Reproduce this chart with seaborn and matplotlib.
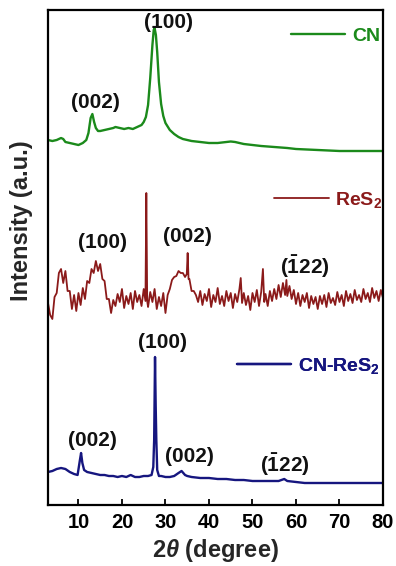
import matplotlib
matplotlib.use("Agg")
import matplotlib.pyplot as plt
import seaborn as sns
import pandas as pd

# ---------------- data ----------------
cn_x = [3.0, 4.0, 5.0, 6.0, 6.5, 7.0, 8.0, 9.0, 10.0, 11.0, 11.8, 12.3, 12.8, 13.2,
        13.6, 14.0, 14.5, 15.0, 16.0, 17.0, 18.0, 18.5, 19.5, 20.5, 21.5, 22.5, 23.5,
        24.5, 25.0, 25.5, 26.0, 26.5, 27.0, 27.3, 27.5, 27.8, 28.1, 28.5, 29.0, 29.5,
        30.0, 31.0, 32.0, 33.0, 34.0, 36.0, 38.0, 40.0, 42.0, 44.0, 45.0, 46.0, 48.0,
        50.0, 52.0, 55.0, 58.0, 60.0, 65.0, 70.0, 75.0, 80.0]
cn_y = [365, 364, 365, 367, 366, 363, 362, 361, 360, 362, 365, 372, 387, 391,
        383, 377, 374, 374, 375, 376, 377, 378, 377, 376, 377, 376, 378,
        380, 383, 388, 400, 427, 460, 475, 477, 470, 453, 423, 401, 389,
        382, 375, 371, 368, 366, 364, 363, 362, 362, 363, 363.5, 363, 361,
        360, 359, 358, 357, 356, 355, 354, 354, 354]

res2_x = [3.0, 3.5, 4.0, 4.5, 5.0, 5.5, 6.0, 6.5, 7.0, 7.5, 8.0, 8.5, 9.0, 9.5, 10.0,
          10.5, 11.0, 11.5, 12.0, 12.5, 13.0, 13.5, 14.0, 14.5, 15.0, 15.5, 16.0, 16.5,
          17.0, 17.5, 18.0, 18.5, 19.0, 19.5, 20.0, 20.5, 21.0, 21.5, 22.0, 22.5, 23.0,
          23.5, 24.0, 24.5, 25.0, 25.4, 25.6, 25.8, 26.0, 26.5, 27.0, 27.5, 28.0, 28.5,
          29.0, 29.5, 30.0, 30.5, 31.0, 31.5, 32.0, 32.5, 33.0, 33.5, 34.0, 34.5, 34.9,
          35.1, 35.3, 35.5, 36.0, 36.5, 37.0, 37.5, 38.0, 38.5, 39.0, 39.5, 40.0, 40.5,
          41.0, 41.5, 42.0, 42.5, 43.0, 43.5, 44.0, 44.5, 45.0, 45.5, 46.0, 46.5, 47.0,
          47.3, 47.6, 48.0, 48.5, 49.0, 49.5, 50.0, 50.5, 51.0, 51.5, 52.0, 52.4, 52.7,
          53.0, 53.5, 54.0, 54.5, 55.0, 55.5, 56.0, 56.5, 57.0, 57.5, 57.8, 58.0, 58.5,
          59.0, 59.5, 60.0, 60.5, 61.0, 61.5, 62.0, 62.5, 63.0, 63.5, 64.0, 64.5, 65.0,
          65.5, 66.0, 66.5, 67.0, 67.5, 68.0, 68.5, 69.0, 69.5, 70.0, 70.5, 71.0, 71.5,
          72.0, 72.5, 73.0, 73.5, 74.0, 74.5, 75.0, 75.5, 76.0, 76.5, 77.0, 77.5, 78.0,
          78.5, 79.0, 79.5, 80.0]
res2_y = [202, 190, 186, 208, 212, 232, 236, 222, 234, 214, 214, 196, 210, 194, 212,
          200, 217, 206, 224, 222, 236, 232, 244, 234, 241, 226, 224, 206,
          206, 192, 205, 199, 211, 203, 216, 197, 209, 201, 212, 196, 214,
          203, 210, 199, 216, 204, 312, 204, 198, 213, 203, 216, 196, 208,
          199, 212, 192, 210, 216, 225, 228, 229, 234, 232, 232, 228, 231,
          252, 226, 226, 214, 214, 210, 203, 214, 200, 211, 204, 216, 198,
          210, 203, 217, 201, 209, 199, 214, 204, 212, 197, 211, 203, 216,
          227, 202, 212, 200, 209, 195, 212, 203, 215, 199, 213, 236, 203,
          211, 199, 214, 204, 216, 206, 220, 208, 222, 210, 225, 209, 219,
          206, 215, 201, 212, 199, 210, 203, 212, 197, 209, 201, 208, 196,
          209, 201, 210, 198, 212, 202, 207, 200, 213, 203, 210, 199, 214,
          204, 211, 202, 215, 205, 210, 203, 216, 206, 212, 203, 217, 207,
          214, 204, 215, 207]

cnres_x = [3.0, 4.0, 5.0, 6.0, 7.0, 8.0, 9.0, 9.8, 10.3, 10.6, 10.9, 11.3, 12.0, 13.0,
           14.0, 15.0, 16.0, 17.0, 18.0, 19.0, 20.0, 21.0, 22.0, 23.0, 24.0, 25.0,
           26.0, 26.8, 27.2, 27.4, 27.6, 27.75, 27.9, 28.1, 28.5, 29.0, 30.0, 31.0,
           32.0, 33.0, 33.7, 34.5, 35.0, 36.0, 38.0, 40.0, 42.0, 44.0, 46.0, 48.0,
           50.0, 52.0, 54.0, 56.0, 57.3, 58.0, 60.0, 62.0, 65.0, 70.0, 75.0, 80.0]
cnres_y = [33, 34, 36, 37, 36, 33, 31, 30, 44, 52, 42, 35, 33, 32,
           31, 30, 30, 29, 29, 28, 29, 28, 30, 28, 28, 29,
           29, 30, 38, 65, 148, 100, 65, 35, 29, 29, 28, 28,
           29, 32, 34, 30, 29, 28, 27, 27, 26, 26, 25, 25,
           24, 24, 24, 24, 26, 24, 23, 22, 22, 22, 22, 22]

series_names = ["CN", "ReS$_\\mathbf{2}$", "CN-ReS$_\\mathbf{2}$"]
series_colors = ["#1b8a1b", "#8b1a1a", "#16167f"]
x_ticks = [10, 20, 30, 40, 50, 60, 70, 80]

# peak labels
peak_text = ["(100)", "(002)", "(100)", "(002)", "$\\mathbf{(\\bar{1}22)}$",
             "(100)", "(002)", "(002)", "$\\mathbf{(\\bar{1}22)}$"]
peak_x = [30.6, 13.8, 15.6, 35.0, 62.1, 29.4, 13.1, 35.6, 57.5]
peak_y = [483, 402, 262, 268, 238, 162, 65, 48, 40]

# ---------------- style ----------------
sns.set_theme(style="ticks")
plt.rcParams["font.family"] = ["Liberation Sans", "DejaVu Sans"]
plt.rcParams["font.weight"] = "bold"
plt.rcParams["mathtext.fontset"] = "custom"
plt.rcParams["mathtext.rm"] = "Liberation Sans:bold"
plt.rcParams["mathtext.bf"] = "Liberation Sans:bold"
plt.rcParams["mathtext.it"] = "Liberation Sans:italic:bold"

fig = plt.figure(figsize=(3.96, 5.66), dpi=100)
ax = fig.add_axes([48 / 396, 1 - 505 / 566, 335 / 396, 495 / 566])

frames = [
    pd.DataFrame({"x": cn_x, "y": cn_y}),
    pd.DataFrame({"x": res2_x, "y": res2_y}),
    pd.DataFrame({"x": cnres_x, "y": cnres_y}),
]
lws = [1.7, 1.3, 1.7]
handles = []
for df, name, col, lw in zip(frames, series_names, series_colors, lws):
    sns.lineplot(data=df, x="x", y="y", ax=ax, color=col, lw=lw, sort=False,
                 estimator=None)
    handles.append(ax.lines[-1])

ax.set_xlim(3, 80)
ax.set_ylim(0, 495)
ax.set_xticks(x_ticks)
ax.set_yticks([])
ax.tick_params(axis="x", direction="in", length=4, width=1.3, labelsize=14.5,
               pad=6, colors="black")
for lbl in ax.get_xticklabels():
    lbl.set_fontweight("bold")
for sp in ax.spines.values():
    sp.set_linewidth(1.6)
    sp.set_color("black")

ax.set_xlabel("2$\\theta$ (degree)", fontsize=17, fontweight="bold", labelpad=3)
ax.set_ylabel("Intensity (a.u.)", fontsize=17, fontweight="bold")
ax.yaxis.set_label_coords(-0.045, 0.574)

# legends, one per series, placed beside each curve
leg_pos = [(0.725, 0.947), (0.675, 0.616), (0.564, 0.281)]
for h, name, col, pos in zip(handles, series_names, series_colors, leg_pos):
    leg = ax.legend([h], [name], loc="center left", bbox_to_anchor=pos,
                    frameon=False, borderpad=0, borderaxespad=0,
                    handlelength=2.8, handletextpad=0.35,
                    prop={"weight": "bold", "size": 14})
    for t in leg.get_texts():
        t.set_color(col)
    ax.add_artist(leg)

for t, x, y in zip(peak_text, peak_x, peak_y):
    ax.text(x, y, t, ha="center", va="center", fontsize=15, fontweight="bold",
            color="#111111")

fig.savefig("out.png", dpi=100)
